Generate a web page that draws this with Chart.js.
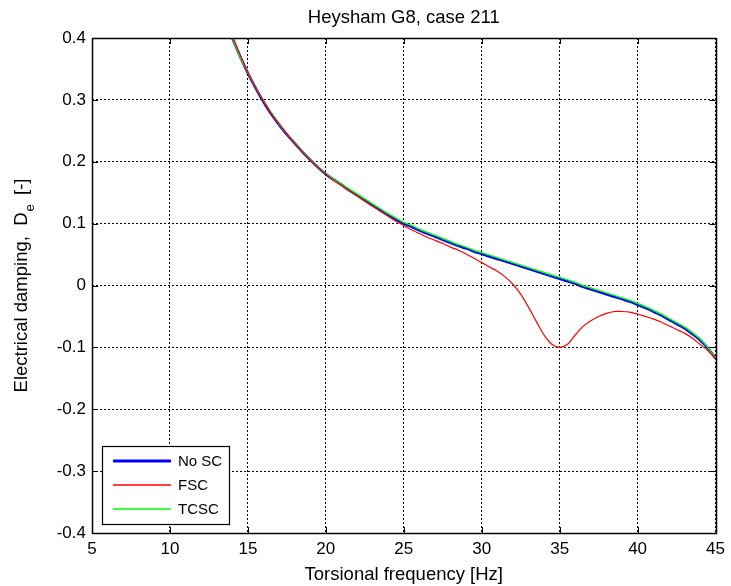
<!DOCTYPE html>
<html lang="en">
<head>
  <meta charset="UTF-8">
  <title>Heysham G8, case 211</title>
  <script src="https://cdn.jsdelivr.net/npm/chart.js"></script>
  <style>
    html, body { margin: 0; padding: 0; background: #fff; }
    #wrap { width: 731px; height: 586px; }
  </style>
</head>
<body>
  <div id="wrap"><canvas id="chart" width="731" height="586"></canvas></div>

  <script>
    // torsional frequency [Hz]
    const freq = [14, 14.5, 15, 15.5, 16, 16.5, 17, 17.5, 18, 18.5, 19, 19.5, 20, 20.5, 21, 21.5,
      22, 22.5, 23, 23.5, 24, 24.5, 25, 25.5, 26, 26.5, 27, 27.5, 28, 28.5, 29, 29.5, 30, 30.5,
      31, 31.5, 32, 32.5, 33, 33.5, 34, 34.5, 35, 35.5, 36, 36.5, 37, 37.5, 38, 38.5, 39, 39.5,
      40, 40.5, 41, 41.5, 42, 42.5, 43, 43.5, 44, 44.5, 45];

    // electrical damping De [-]
    const noSC = [0.400, 0.370, 0.343, 0.319, 0.297, 0.277, 0.260, 0.244, 0.230, 0.216, 0.203, 0.191,
      0.180, 0.171, 0.163, 0.154, 0.146, 0.138, 0.130, 0.122, 0.114, 0.107, 0.100, 0.095, 0.089,
      0.084, 0.079, 0.074, 0.069, 0.064, 0.060, 0.055, 0.051, 0.047, 0.043, 0.039, 0.035, 0.031,
      0.027, 0.023, 0.019, 0.015, 0.011, 0.007, 0.003, -0.002, -0.006, -0.010, -0.014, -0.018,
      -0.022, -0.026, -0.031, -0.036, -0.042, -0.048, -0.055, -0.062, -0.069, -0.078, -0.088,
      -0.101, -0.118];

    const fsc = [0.402, 0.373, 0.345, 0.320, 0.298, 0.278, 0.261, 0.245, 0.230, 0.216, 0.203, 0.191,
      0.180, 0.170, 0.162, 0.153, 0.145, 0.136, 0.128, 0.120, 0.112, 0.104, 0.097, 0.090, 0.084,
      0.078, 0.073, 0.068, 0.062, 0.057, 0.051, 0.044, 0.037, 0.030, 0.023, 0.014, 0.002, -0.014,
      -0.035, -0.058, -0.080, -0.095, -0.100, -0.095, -0.080, -0.066, -0.057, -0.050, -0.045,
      -0.042, -0.042, -0.043, -0.046, -0.050, -0.054, -0.059, -0.065, -0.071, -0.077, -0.085,
      -0.095, -0.105, -0.118];

    const tcsc = [0.399, 0.369, 0.344, 0.320, 0.299, 0.279, 0.261, 0.245, 0.231, 0.217, 0.204, 0.192,
      0.181, 0.172, 0.164, 0.156, 0.148, 0.140, 0.132, 0.124, 0.116, 0.109, 0.102, 0.097, 0.091,
      0.086, 0.081, 0.076, 0.071, 0.066, 0.062, 0.057, 0.053, 0.049, 0.045, 0.041, 0.037, 0.033,
      0.029, 0.025, 0.021, 0.017, 0.013, 0.009, 0.005, 0.000, -0.004, -0.008, -0.012, -0.016,
      -0.020, -0.024, -0.029, -0.034, -0.040, -0.046, -0.053, -0.060, -0.067, -0.076, -0.086,
      -0.100, -0.118];

    const xTicks = [5, 10, 15, 20, 25, 30, 35, 40, 45];
    const yTicks = [-0.4, -0.3, -0.2, -0.1, 0, 0.1, 0.2, 0.3, 0.4];

    const FONT = '"Liberation Sans", Arial, Helvetica, sans-serif';

    function pts(ys) {
      return freq.map((f, i) => ({ x: f, y: ys[i] }));
    }

    // box, inward ticks, title, y label with subscript and the legend
    const frame = {
      id: 'frame',
      afterDraw(chart) {
        const ctx = chart.ctx;
        const a = chart.chartArea;
        const xs = chart.scales.x, ys = chart.scales.y;
        ctx.save();
        ctx.strokeStyle = '#000';
        ctx.lineWidth = 1;
        ctx.setLineDash([]);

        ctx.beginPath();
        xTicks.forEach(v => {
          const p = Math.round(xs.getPixelForValue(v)) + 0.5;
          ctx.moveTo(p, a.bottom); ctx.lineTo(p, a.bottom - 6);
          ctx.moveTo(p, a.top); ctx.lineTo(p, a.top + 6);
        });
        yTicks.forEach(v => {
          const p = Math.round(ys.getPixelForValue(v)) + 0.5;
          ctx.moveTo(a.left, p); ctx.lineTo(a.left + 6, p);
          ctx.moveTo(a.right, p); ctx.lineTo(a.right - 6, p);
        });
        ctx.stroke();

        ctx.lineWidth = 1.5;
        ctx.strokeRect(Math.round(a.left) + 0.5, Math.round(a.top) + 0.5,
          Math.round(a.right - a.left), Math.round(a.bottom - a.top));

        // title
        ctx.fillStyle = '#000';
        ctx.font = '18.5px ' + FONT;
        ctx.textAlign = 'center';
        ctx.textBaseline = 'middle';
        ctx.fillText('Heysham G8, case 211', (a.left + a.right) / 2, 18);

        // y label: Electrical damping,  D_e  [-]
        const main = 'Electrical damping,  D';
        const tail = '  [-]';
        ctx.font = '18.5px ' + FONT;
        const w1 = ctx.measureText(main).width;
        const w3 = ctx.measureText(tail).width;
        ctx.font = '13px ' + FONT;
        const w2 = ctx.measureText('e').width;
        const total = w1 + w2 + w3;
        ctx.translate(22, (a.top + a.bottom) / 2);
        ctx.rotate(-Math.PI / 2);
        ctx.textAlign = 'left';
        ctx.font = '18.5px ' + FONT;
        ctx.fillText(main, -total / 2, 0);
        ctx.font = '13px ' + FONT;
        ctx.fillText('e', -total / 2 + w1 + 1, 8);
        ctx.font = '18.5px ' + FONT;
        ctx.fillText(tail, -total / 2 + w1 + w2, 0);
        ctx.setTransform(1, 0, 0, 1, 0, 0);

        // legend
        const lx = 102, ly = 446, lw = 127, lh = 78;
        ctx.fillStyle = '#fff';
        ctx.fillRect(lx, ly, lw, lh);
        ctx.lineWidth = 1.2;
        ctx.strokeStyle = '#000';
        ctx.strokeRect(lx + 0.5, ly + 0.5, lw, lh);
        const rows = [461, 485, 509];
        chart.data.datasets.forEach((ds, i) => {
          ctx.beginPath();
          ctx.strokeStyle = ds.borderColor;
          ctx.lineWidth = i === 0 ? 3 : 1.5;
          ctx.moveTo(113, rows[i]);
          ctx.lineTo(171, rows[i]);
          ctx.stroke();
          ctx.fillStyle = '#000';
          ctx.font = '15px ' + FONT;
          ctx.textAlign = 'left';
          ctx.textBaseline = 'middle';
          ctx.fillText(ds.label, 178, rows[i] + 1);
        });
        ctx.restore();
      }
    };

    new Chart(document.getElementById('chart'), {
      type: 'line',
      data: {
        datasets: [
          { label: 'No SC', data: pts(noSC), borderColor: '#0000ff', borderWidth: 2.6, order: 3 },
          { label: 'FSC', data: pts(fsc), borderColor: '#ff0000', borderWidth: 1.2, order: 1 },
          { label: 'TCSC', data: pts(tcsc), borderColor: '#00ff00', borderWidth: 1.4, order: 2 }
        ]
      },
      options: {
        responsive: false,
        animation: false,
        devicePixelRatio: 1,
        elements: { point: { radius: 0 }, line: { tension: 0.35, fill: false } },
        layout: { padding: { top: 38, right: 12, left: 0, bottom: 0 } },
        plugins: { legend: { display: false }, title: { display: false }, tooltip: { enabled: false } },
        scales: {
          x: {
            type: 'linear', min: 5, max: 45,
            afterFit: s => { s.height = 53; },
            afterBuildTicks: s => { s.ticks = xTicks.map(v => ({ value: v })); },
            ticks: { color: '#000', font: { family: FONT, size: 17 }, padding: 6, maxRotation: 0,
              callback: v => String(v) },
            grid: { color: '#000', lineWidth: 1, drawTicks: false },
            border: { display: false, dash: [2, 2] },
            title: { display: true, text: 'Torsional frequency [Hz]', color: '#000',
              font: { family: FONT, size: 18.5 }, padding: { top: 0, bottom: 0 } }
          },
          y: {
            type: 'linear', min: -0.4, max: 0.4,
            afterFit: s => { s.width = 92; },
            afterBuildTicks: s => { s.ticks = yTicks.map(v => ({ value: v })); },
            ticks: { color: '#000', font: { family: FONT, size: 17 }, padding: 6,
              callback: v => (Math.abs(v) < 1e-9 ? '0' : v.toFixed(1)) },
            grid: { color: '#000', lineWidth: 1, drawTicks: false },
            border: { display: false, dash: [2, 2] }
          }
        }
      },
      plugins: [frame]
    });
  </script>
</body>
</html>
